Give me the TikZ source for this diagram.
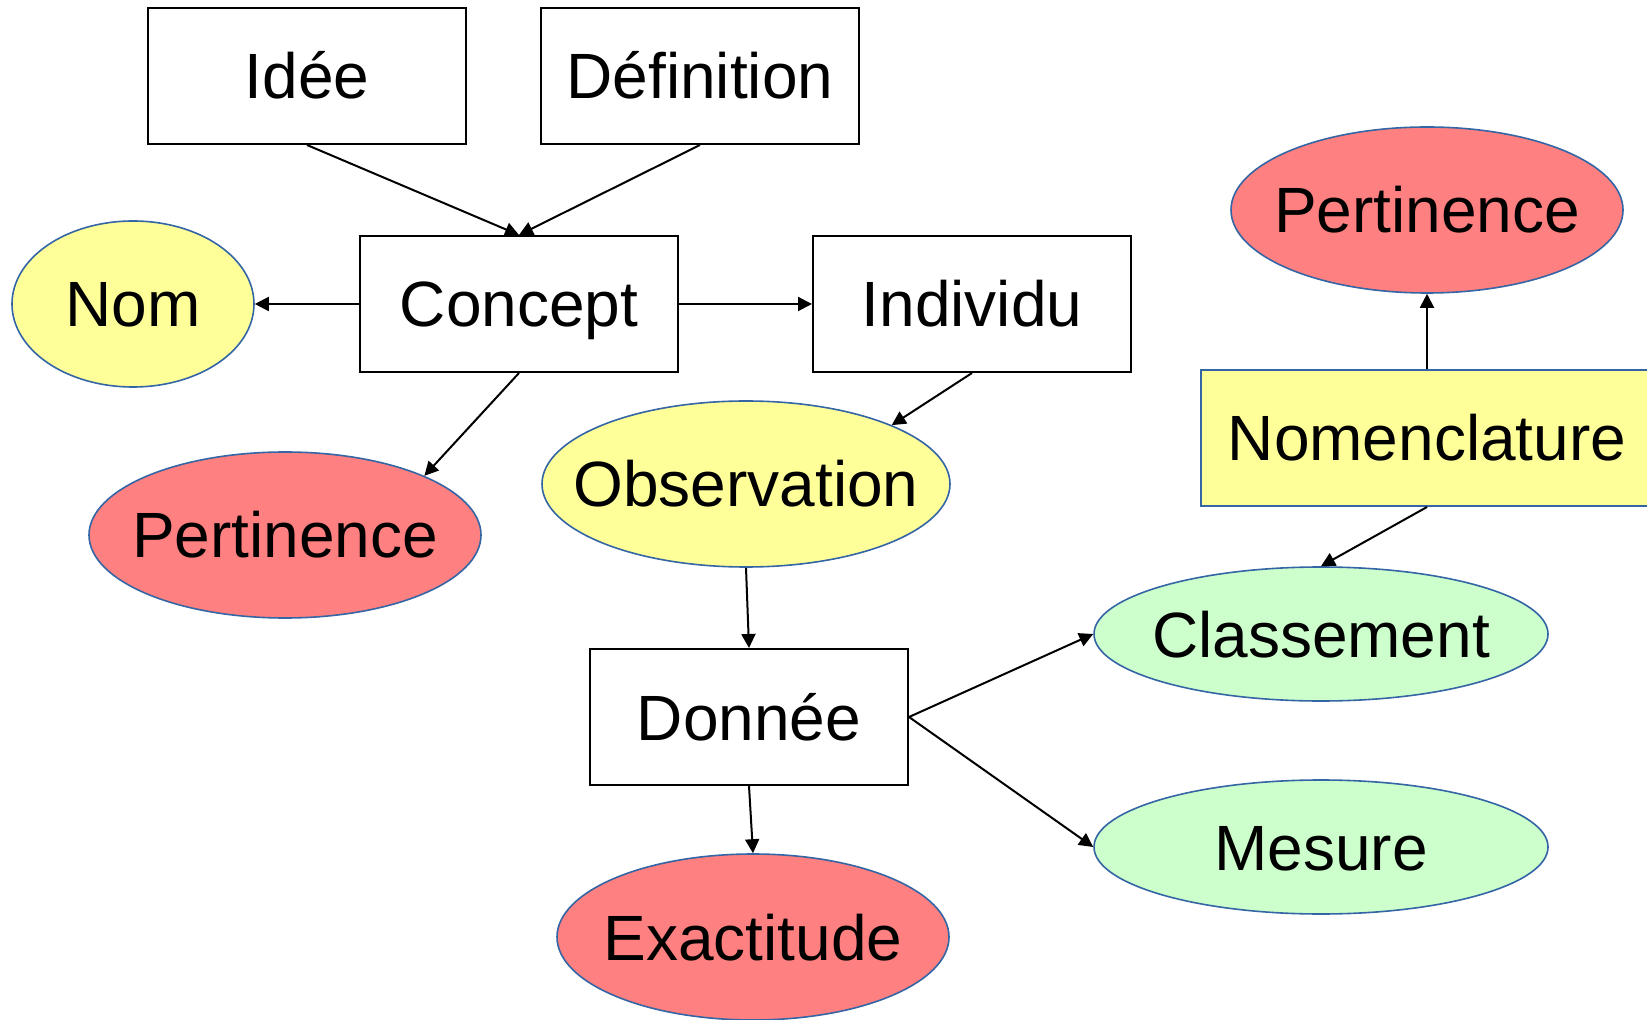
\documentclass[tikz,border=0pt]{standalone}
\usepackage{fontspec}
\setmainfont{Liberation Sans}
\usetikzlibrary{shapes.geometric,arrows.meta}
\definecolor{jaune}{HTML}{FFFF99}
\definecolor{rouge}{HTML}{FF8080}
\definecolor{vert}{HTML}{CCFFCC}
\definecolor{bord}{HTML}{3465A4}
\newcommand{\lbl}[1]{\makebox[0pt]{#1}}
\begin{document}
\begin{tikzpicture}[x=0.5pt, y=-0.5pt, font=\fontsize{32}{36}\selectfont,
  box/.style = {draw, rectangle, line width=1pt, minimum width=159pt, minimum height=68pt, text height=23pt, text depth=0pt},
  oval/.style = {draw=bord, ellipse, line width=0.8pt, inner sep=0pt, minimum width=196pt, minimum height=83pt, text height=23pt, text depth=0pt},
  fleche/.style = {-{Triangle[length=7pt,width=7pt]}, line width=1pt}]
\useasboundingbox (0,0) rectangle (1647,1020);
\node[box] (idee) at (307,76) {Idée};
\node[box] (defi) at (700,76) {Définition};
\node[box] (concept) at (519,304) {Concept};
\node[box] (indiv) at (972,304) {Individu};
\node[box] (donnee) at (749,717) {Donnée};
\node[box, fill=jaune, draw=bord, minimum width=226pt] (nomencl) at (1427,438) {Nomenclature};
\node[oval, fill=jaune, minimum width=121pt] (nom) at (133,304) {\lbl{Nom}};
\node[oval, fill=rouge] (pertA) at (285,535) {\lbl{Pertinence}};
\node[oval, fill=jaune, minimum width=204pt] (obs) at (746,484) {\lbl{Observation}};
\node[oval, fill=rouge] (pertB) at (1427,210) {\lbl{Pertinence}};
\node[oval, fill=rouge] (exact) at (753,937) {\lbl{Exactitude}};
\node[oval, fill=vert, minimum width=227pt, minimum height=67pt] (classe) at (1321,634) {\lbl{Classement}};
\node[oval, fill=vert, minimum width=227pt, minimum height=67pt] (mesure) at (1321,847) {\lbl{Mesure}};
\draw[fleche] (idee.south) -- (concept.north);
\draw[fleche] (defi.south) -- (concept.north);
\draw[fleche] (concept.west) -- (nom.east);
\draw[fleche] (concept.east) -- (indiv.west);
\draw[fleche] (concept.south) -- (pertA.23);
\draw[fleche] (indiv.south) -- (obs.22);
\draw[fleche] (obs.south) -- (donnee.north);
\draw[fleche] (donnee.south) -- (exact.north);
\draw[fleche] (donnee.east) -- (classe.west);
\draw[fleche] (donnee.east) -- (mesure.west);
\draw[fleche] (nomencl.north) -- (pertB.south);
\draw[fleche] (nomencl.south) -- (classe.north);
\end{tikzpicture}
\end{document}
